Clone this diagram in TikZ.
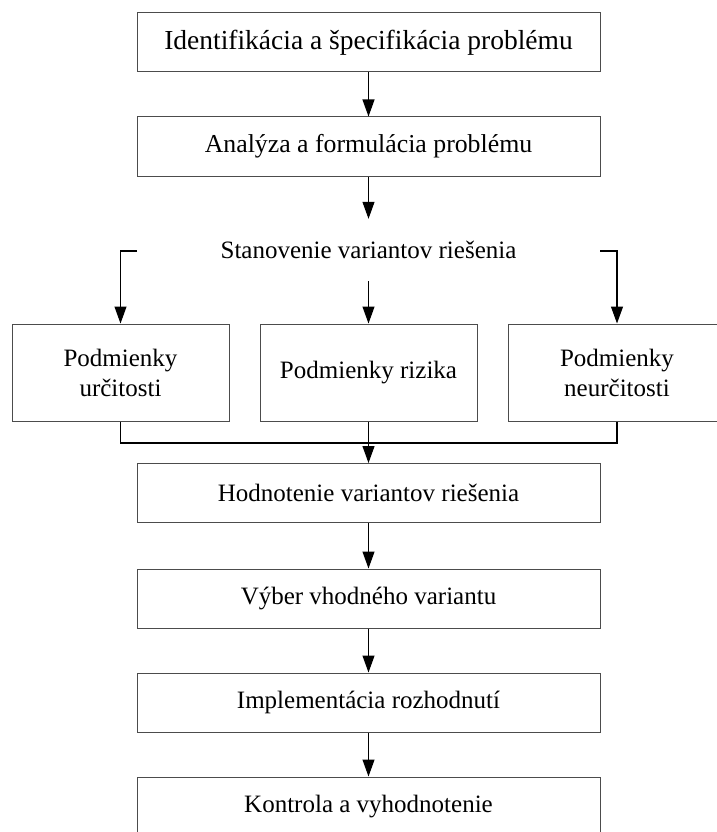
\documentclass[tikz,border=0pt]{standalone}
\usepackage{fontspec}
\setmainfont{Liberation Serif}
\usetikzlibrary{arrows.meta}
\begin{document}
\begin{tikzpicture}[x=1pt,y=1pt,
  box/.style={draw=black!70, line width=1pt, minimum width=463pt, minimum height=59pt,
    inner sep=0pt, font=\fontsize{25}{30}\selectfont, align=center},
  sidebox/.style={box, minimum width=217pt, minimum height=97pt},
  label/.style={inner sep=0pt, minimum height=62pt, font=\fontsize{25}{30}\selectfont},
  link/.style={line width=1.1pt, black},
  arrow/.style={link, -{Triangle[length=17pt,width=12pt]}}]
\useasboundingbox (0,0) rectangle (716,-832);

% main column
\node[box, font=\fontsize{27.5}{33}\selectfont] (ident) at (368.5,-42.5) {Identifikácia a špecifikácia problému};
\node[box, font=\fontsize{25.8}{31}\selectfont] (anal)  at (368.5,-146.5) {Analýza a formulácia problému};
\node[label] (stan) at (368.5,-250) {Stanovenie variantov riešenia};

% three kinds of conditions
\node[sidebox] (urc)  at (120.5,-372.5) {Podmienky\\určitosti};
\node[sidebox] (riz)  at (368.5,-372.5) {Podmienky rizika};
\node[sidebox] (neur) at (617,-372.5) {Podmienky\\neurčitosti};

\node[box] (hodn) at (368.5,-493)   {Hodnotenie variantov riešenia};
\node[box] (vyb)  at (368.5,-598.5) {Výber vhodného variantu};
\node[box] (impl) at (368.5,-702.5) {Implementácia rozhodnutí};
\node[box] (kont) at (368.5,-806.5) {Kontrola a vyhodnotenie};

% branch stubs and merge point
\coordinate (lstub) at (137,-251);
\coordinate (rstub) at (600,-251);
\coordinate (merge) at (368.5,-443);

\draw[arrow] (ident) -- (anal);
\draw[arrow] (anal) -- (stan.north);
\draw[arrow] (lstub) -| (urc.north);
\draw[arrow] (rstub) -| (neur.north);
\draw[arrow] (stan.south) -- (riz.north);

\draw[link] (urc.south) |- (merge) -| (neur.south);
\draw[link] (riz.south) -- (merge);
\draw[arrow] (merge) -- (hodn.north);

\draw[arrow] (hodn) -- (vyb);
\draw[arrow] (vyb) -- (impl);
\draw[arrow] (impl) -- (kont);
\end{tikzpicture}
\end{document}
